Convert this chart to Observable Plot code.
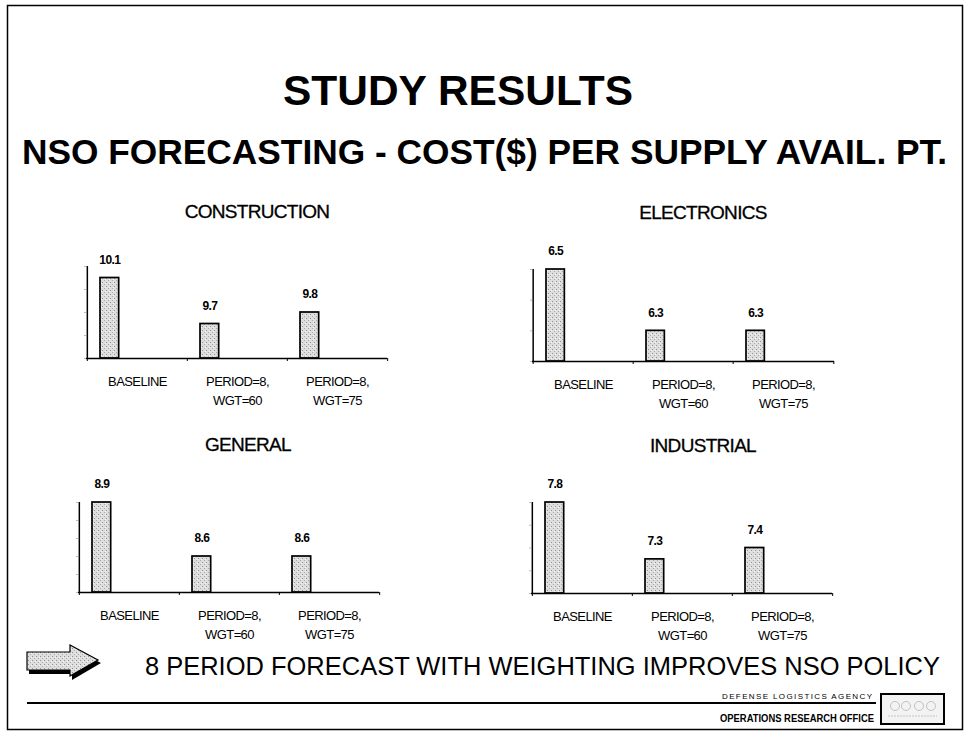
<!DOCTYPE html>
<html><head><meta charset="utf-8">
<script src="https://cdn.jsdelivr.net/npm/d3@7"></script>
<script src="https://cdn.jsdelivr.net/npm/@observablehq/plot@0.6"></script>
<style>
body{margin:0;background:#fff}
#page{position:relative;width:964px;height:734px;overflow:hidden;background:#fff;font-family:"Liberation Sans",Arial,sans-serif}
.abs{position:absolute}
</style></head><body><div id="page"></div>
<script>
// ---- data ----
const categories = ["BASELINE", "PERIOD=8,\nWGT=60", "PERIOD=8,\nWGT=75"];
const panelTitles = ["CONSTRUCTION", "ELECTRONICS", "GENERAL", "INDUSTRIAL"];
const construction = [10.1, 9.7, 9.8];
const electronics = [6.5, 6.3, 6.3];
const general = [8.9, 8.6, 8.6];
const industrial = [7.8, 7.3, 7.4];
const yDomains = [[9.4, 10.2], [6.2, 6.5], [8.4, 8.9], [7.0, 7.8]];
const mainTitle = "STUDY RESULTS";
const subTitle = "NSO FORECASTING - COST($) PER SUPPLY AVAIL. PT.";
const conclusion = "8 PERIOD FORECAST WITH WEIGHTING IMPROVES NSO POLICY";
const agency = "DEFENSE LOGISTICS AGENCY";
const office = "OPERATIONS RESEARCH OFFICE";

// ---- layout (styles only) ----
const FONT = '"Liberation Sans", Arial, sans-serif';
const layout = [
  {x0: 86, x1: 387, yTop: 266, yBase: 358, tx: 257, ty: 218},
  {x0: 532, x1: 834, yTop: 269, yBase: 361, tx: 703, ty: 219},
  {x0: 78, x1: 379, yTop: 502, yBase: 592, tx: 248, ty: 451},
  {x0: 531, x1: 832, yTop: 502, yBase: 593, tx: 703, ty: 452}
];

const page = document.getElementById("page");

// ---- background decoration svg ----
const bg = d3.select(page).append("svg")
  .attr("class", "abs").style("left", "0px").style("top", "0px")
  .attr("width", 964).attr("height", 734);
const defs = bg.append("defs");
const pat = defs.append("pattern").attr("id", "stipple").attr("width", 4).attr("height", 4)
  .attr("patternUnits", "userSpaceOnUse");
pat.append("rect").attr("width", 4).attr("height", 4).attr("fill", "#dedede");
pat.append("rect").attr("x", 0).attr("y", 0).attr("width", 1).attr("height", 1).attr("fill", "#919191");
pat.append("rect").attr("x", 2).attr("y", 2).attr("width", 1).attr("height", 1).attr("fill", "#ababab");
pat.append("rect").attr("x", 3).attr("y", 1).attr("width", 1).attr("height", 1).attr("fill", "#f4f4f4");

bg.append("rect").attr("x", 7.5).attr("y", 5.5).attr("width", 955).attr("height", 724)
  .attr("fill", "none").attr("stroke", "#000").attr("stroke-width", 1.5);

bg.append("text").text(mainTitle).attr("x", 458).attr("y", 105).attr("text-anchor", "middle")
  .attr("font-family", FONT).attr("font-weight", "bold").attr("font-size", 42)
  .attr("textLength", 350).attr("lengthAdjust", "spacingAndGlyphs");
bg.append("text").text(subTitle).attr("x", 22).attr("y", 164)
  .attr("font-family", FONT).attr("font-weight", "bold").attr("font-size", 35)
  .attr("textLength", 925).attr("lengthAdjust", "spacingAndGlyphs");

layout.forEach((L, i) => {
  bg.append("text").text(panelTitles[i]).attr("x", L.tx).attr("y", L.ty).attr("text-anchor", "middle")
    .attr("font-family", FONT).attr("font-size", 19).attr("letter-spacing", "-0.7")
    .attr("stroke", "#000").attr("stroke-width", 0.3);
});

// arrow
bg.append("polygon").attr("points", "29,655 72,655 72,648 101,663 72,680 72,674 29,674").attr("fill", "#000");
bg.append("polygon").attr("points", "27,652 70,652 70,645 98,660 70,676 70,670 27,670")
  .attr("fill", "url(#stipple)").attr("stroke", "#000").attr("stroke-width", 1.2);

bg.append("text").text(conclusion).attr("x", 145).attr("y", 675)
  .attr("font-family", FONT).attr("font-size", 25)
  .attr("textLength", 795).attr("lengthAdjust", "spacingAndGlyphs");

bg.append("line").attr("x1", 27).attr("x2", 876).attr("y1", 703).attr("y2", 703)
  .attr("stroke", "#000").attr("stroke-width", 2);
bg.append("text").text(agency).attr("x", 872).attr("y", 699).attr("text-anchor", "end")
  .attr("font-family", FONT).attr("font-size", 8)
  .attr("textLength", 150).attr("lengthAdjust", "spacing");
bg.append("text").text(office).attr("x", 874).attr("y", 722).attr("text-anchor", "end")
  .attr("font-family", FONT).attr("font-weight", "bold").attr("font-size", 11.5)
  .attr("textLength", 154).attr("lengthAdjust", "spacingAndGlyphs");
// logo box (illegible emblem, drawn as faint rings)
bg.append("rect").attr("x", 881).attr("y", 694).attr("width", 63).attr("height", 30)
  .attr("fill", "#f3f3f3").attr("stroke", "#000").attr("stroke-width", 2);
[895, 906, 919, 931].forEach(cx => {
  bg.append("circle").attr("cx", cx).attr("cy", 706).attr("r", 4.5)
    .attr("fill", "none").attr("stroke", "#b5b5b5").attr("stroke-width", 0.8);
});
bg.append("line").attr("x1", 888).attr("x2", 937).attr("y1", 716).attr("y2", 716)
  .attr("stroke", "#c4c4c4").attr("stroke-width", 1.2).attr("stroke-dasharray", "2,1");

// ---- charts ----
const seriesList = [construction, electronics, general, industrial];

function panel(values, domain, L) {
  const data = categories.map((c, i) => ({cat: c, value: values[i]}));
  const mL = 12, mR = 12, mT = 40, mB = 52;
  const pw = L.x1 - L.x0, ph = L.yBase - L.yTop, bw = pw / 3;
  const barOffset = 13, barWidth = 19;
  const tickLen = 3 * (domain[1] - domain[0]) / ph; // 3px expressed in data units
  const chart = Plot.plot({
    width: pw + mL + mR,
    height: ph + mT + mB,
    marginLeft: mL, marginRight: mR, marginTop: mT, marginBottom: mB,
    style: {fontFamily: FONT, background: "transparent", overflow: "visible", color: "#000", letterSpacing: "-0.6px"},
    x: {type: "band", domain: categories, padding: 0, axis: null},
    y: {domain, axis: null},
    marks: [
      Plot.barY(data, {x: "cat", y1: () => domain[0], y2: "value", fill: "url(#stipple)", stroke: "#000", strokeWidth: 1.7,
        insetLeft: barOffset, insetRight: bw - barOffset - barWidth}),
      Plot.ruleY([domain[0]], {stroke: "#000", strokeWidth: 1.5}),
      Plot.ruleX([categories[0]], {y1: domain[0], y2: domain[1], dx: -bw / 2, stroke: "#000", strokeWidth: 1.5}),
      Plot.ruleX(categories, {y1: domain[0], y2: domain[0] - tickLen, dx: -bw / 2, stroke: "#000", strokeWidth: 1}),
      Plot.ruleX([categories[2]], {y1: domain[0], y2: domain[0] - tickLen, dx: bw / 2, stroke: "#000", strokeWidth: 1}),
      Plot.axisY({ticks: 4, tickSize: 2, tickFormat: () => "", label: null, stroke: "#bbb"}),
      Plot.axisX({tickSize: 0, tickPadding: 14, fontSize: 13, lineHeight: 1.45, label: null,
        stroke: "#000", strokeWidth: 0.25}),
      Plot.text(data, {x: "cat", y: "value", text: d => d.value.toFixed(1), dx: barOffset + barWidth / 2 - bw / 2, dy: -18,
        fontSize: 12, fontWeight: "bold"})
    ]
  });
  const wrap = document.createElement("div");
  wrap.className = "abs";
  wrap.style.left = (L.x0 - mL) + "px";
  wrap.style.top = (L.yTop - mT) + "px";
  wrap.appendChild(chart);
  page.appendChild(wrap);
}

layout.forEach((L, i) => panel(seriesList[i], yDomains[i], L));
</script>
</body></html>
